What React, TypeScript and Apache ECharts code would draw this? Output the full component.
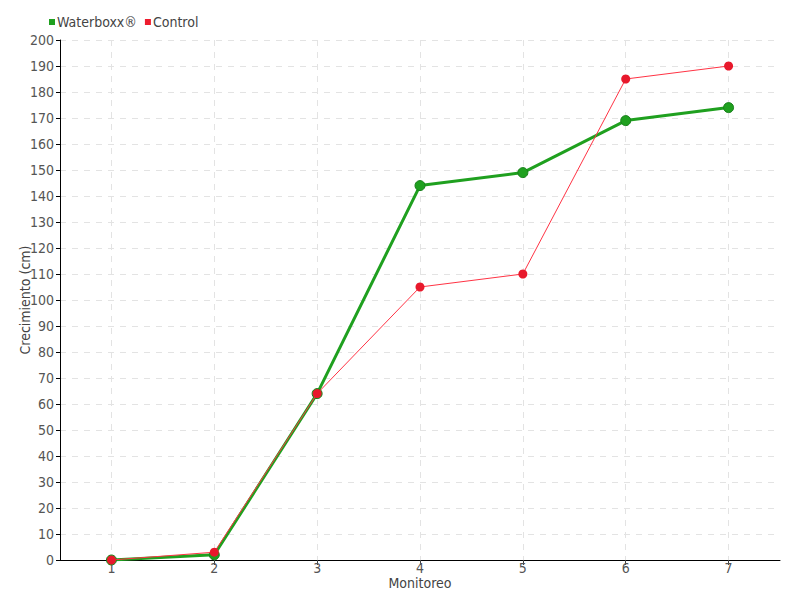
import React, { useEffect, useRef } from "react";
import * as echarts from "echarts";

const categories = ["1", "2", "3", "4", "5", "6", "7"];
const waterboxx = [0, 2, 64, 144, 149, 169, 174];
const control = [0, 3, 64, 105, 110, 185, 190];
const seriesNames = ["Waterboxx®", "Control"];

const FONT = "'DejaVu Sans Condensed', 'Liberation Sans Narrow', sans-serif";

export default function App() {
  const ref = useRef<HTMLDivElement>(null);
  useEffect(() => {
    if (!ref.current) return;
    const chart = echarts.init(ref.current, null, { renderer: "svg" });
    chart.setOption({
      animation: false,
      textStyle: { fontFamily: FONT },
      legend: {
        left: 44,
        top: 10,
        itemWidth: 6,
        itemHeight: 6,
        itemGap: 8,
        icon: "rect",
        textStyle: { color: "#444", fontSize: 14, fontFamily: FONT, padding: [0, 0, 0, -3] },
        data: [
          { name: seriesNames[0], itemStyle: { color: "#1fa01f", borderWidth: 0 } },
          { name: seriesNames[1], itemStyle: { color: "#ee1c2e", borderWidth: 0 } },
        ],
      },
      grid: { left: 60, right: 20, top: 40, bottom: 40, containLabel: false },
      xAxis: {
        type: "category",
        data: categories,
        boundaryGap: true,
        name: "Monitoreo",
        nameLocation: "middle",
        nameGap: 16,
        nameMoveOverlap: false,
        nameTextStyle: { color: "#444", fontSize: 14, fontFamily: FONT, lineHeight: 14 },
        axisLine: { lineStyle: { color: "#000", width: 1 } },
        axisTick: { show: true, alignWithLabel: true, length: 5, lineStyle: { color: "#444" } },
        axisLabel: { color: "#555", fontSize: 14, lineHeight: 14, margin: 1, fontFamily: FONT },
        splitLine: { show: true, alignWithLabel: true, lineStyle: { color: "#e3e3e3", type: [6, 6], width: 1 } },
      },
      yAxis: {
        type: "value",
        min: 0,
        max: 200,
        interval: 10,
        name: "Crecimiento (cm)",
        nameLocation: "middle",
        nameGap: 28,
        nameMoveOverlap: false,
        nameTextStyle: { color: "#444", fontSize: 14, fontFamily: FONT },
        axisLine: { show: true, lineStyle: { color: "#000", width: 1 } },
        axisTick: { show: true, length: 4, lineStyle: { color: "#000" } },
        axisLabel: { color: "#555", fontSize: 14, margin: 6, fontFamily: FONT },
        splitLine: { show: true, lineStyle: { color: "#e3e3e3", type: [6, 6], width: 1 } },
      },
      series: [
        {
          name: seriesNames[0],
          type: "line",
          data: waterboxx,
          symbol: "circle",
          symbolSize: 10,
          lineStyle: { color: "#1fa01f", width: 3 },
          itemStyle: { color: "#1fa01f", borderColor: "#17801a", borderWidth: 1 },
          z: 2,
        },
        {
          name: seriesNames[1],
          type: "line",
          data: control,
          symbol: "circle",
          symbolSize: 9,
          lineStyle: { color: "#ff3344", width: 1 },
          itemStyle: { color: "#e8192c", borderColor: "#e8192c", borderWidth: 0 },
          z: 3,
        },
      ],
    });
    return () => chart.dispose();
  }, []);
  return <div ref={ref} style={{ width: 800, height: 600, position: "absolute", left: 0, top: 0 }} />;
}
